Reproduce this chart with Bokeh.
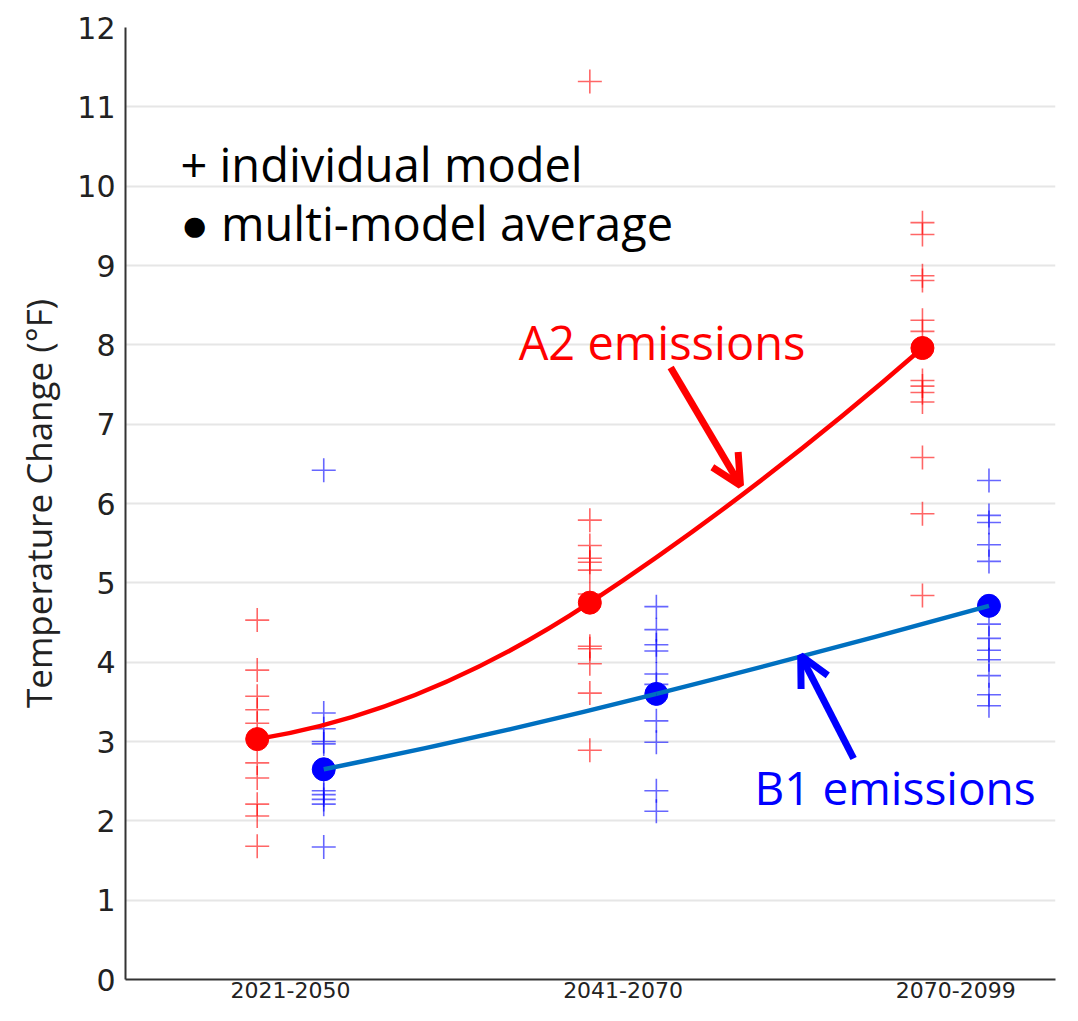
from bokeh.plotting import figure
from bokeh.models import Arrow, OpenHead, FixedTicker, Label
from bokeh.embed import file_html
from bokeh.resources import INLINE

# ---- data ----
periods = ["2021-2050", "2041-2070", "2070-2099"]

a2_models = [
    [4.53, 3.90, 3.57, 3.40, 3.23, 2.73, 2.54, 2.21, 2.06, 1.68],
    [11.32, 5.79, 5.47, 5.31, 5.26, 5.16, 4.86, 4.20, 4.17, 3.98, 3.61, 2.89],
    [9.54, 9.39, 8.87, 8.81, 8.31, 8.17, 7.55, 7.48, 7.40, 7.28, 6.58, 5.87, 4.84],
]
b1_models = [
    [6.42, 3.36, 3.16, 3.00, 2.97, 2.38, 2.33, 2.27, 2.21, 1.67],
    [4.70, 4.41, 4.22, 4.14, 3.85, 3.72, 3.26, 2.99, 2.38, 2.12],
    [6.29, 5.85, 5.76, 5.48, 5.27, 4.48, 4.30, 4.15, 4.03, 3.83, 3.59, 3.45],
]
a2_mean = [3.03, 4.75, 7.96]
b1_mean = [2.65, 3.60, 4.71]

y_ticks = list(range(0, 13))

# ---- style ----
OFF = 0.1
RED = "#ff0000"
BLUE = "#0000ff"
LINE_BLUE = "#0070c0"
FONT = "Open Sans"

p = figure(width=1062, height=1005, output_backend="svg", toolbar_location=None,
           x_range=(0.504, 3.30), y_range=(0, 12),
           min_border_left=125, min_border_top=27, min_border_right=7, min_border_bottom=26)
p.outline_line_color = None
p.xgrid.grid_line_color = None
p.ygrid.grid_line_color = "#e6e6e6"
p.ygrid.grid_line_width = 2
p.background_fill_color = "white"
p.border_fill_color = "white"

p.yaxis.ticker = FixedTicker(ticks=y_ticks)
p.xaxis.ticker = FixedTicker(ticks=[1, 2, 3])
p.xaxis.major_label_overrides = {i + 1: s for i, s in enumerate(periods)}
for ax in (p.xaxis[0], p.yaxis[0]):
    ax.major_tick_out = 0
    ax.major_tick_in = 0
    ax.minor_tick_out = 0
    ax.minor_tick_in = 0
    ax.axis_line_color = "#333333"
    ax.axis_line_width = 2
    ax.major_label_text_font = "DejaVu Sans"
    ax.major_label_text_color = "#222222"
p.yaxis.major_label_text_font_size = "30px"
p.yaxis.major_label_standoff = 10
p.xaxis.major_label_text_font_size = "22px"
p.xaxis.major_label_standoff = 2
p.yaxis.axis_label = "Temperature Change (°F)"
p.yaxis.axis_label_text_font = FONT
p.yaxis.axis_label_text_font_style = "normal"
p.yaxis.axis_label_text_font_size = "35px"
p.yaxis.axis_label_text_color = "#222222"
p.yaxis.axis_label_standoff = 12

# individual model crosses
for i, vals in enumerate(a2_models):
    p.scatter([i + 1 - OFF] * len(vals), vals, marker="cross", size=24,
              line_color=RED, line_alpha=0.6, line_width=1.6)
for i, vals in enumerate(b1_models):
    p.scatter([i + 1 + OFF] * len(vals), vals, marker="cross", size=24,
              line_color=BLUE, line_alpha=0.6, line_width=1.6)

# multi-model averages
xa = [i + 1 - OFF for i in range(3)]
xb = [i + 1 + OFF for i in range(3)]
p.scatter(xa, a2_mean, marker="circle", size=23, fill_color=RED, line_color=RED)
p.scatter(xb, b1_mean, marker="circle", size=23, fill_color=BLUE, line_color=BLUE)

# smooth connecting curves: two quadratic pieces sharing a tangent at the middle average
def curve(xs, ys, color):
    s_left = (ys[1] - ys[0]) / (xs[1] - xs[0])
    s_right = (ys[2] - ys[1]) / (xs[2] - xs[1])
    slope = 0.3 * s_left + 0.7 * s_right
    h1 = 0.5 * (xs[1] - xs[0])
    h2 = 0.5 * (xs[2] - xs[1])
    p.quadratic(x0=[xs[0], xs[1]], y0=[ys[0], ys[1]],
                x1=[xs[1], xs[2]], y1=[ys[1], ys[2]],
                cx=[xs[1] - h1, xs[1] + h2],
                cy=[ys[1] - h1 * slope, ys[1] + h2 * slope],
                line_color=color, line_width=4.5)

curve(xa, a2_mean, RED)
curve(xb, b1_mean, LINE_BLUE)

# annotations
p.add_layout(Label(x=0.669, y=10.28, text="+ individual model", text_font=FONT,
                   text_font_size="47px", text_color="black", text_baseline="alphabetic"))
p.add_layout(Label(x=0.669, y=9.54, text="● multi-model average", text_font=FONT,
                   text_font_size="47px", text_color="black", text_baseline="alphabetic"))
p.add_layout(Label(x=1.686, y=8.04, text="A2 emissions", text_font=FONT,
                   text_font_size="47px", text_color=RED, text_baseline="alphabetic"))
p.add_layout(Label(x=2.395, y=2.43, text="B1 emissions", text_font=FONT,
                   text_font_size="46px", text_color=BLUE, text_baseline="alphabetic"))

p.add_layout(Arrow(x_start=2.143, y_start=7.715, x_end=2.353, y_end=6.227,
                   line_color=RED, line_width=7,
                   end=OpenHead(size=30, line_color=RED, line_width=7)))
p.add_layout(Arrow(x_start=2.693, y_start=2.786, x_end=2.534, y_end=4.084,
                   line_color=BLUE, line_width=7,
                   end=OpenHead(size=30, line_color=BLUE, line_width=7)))

open("out.html", "w").write(file_html(p, INLINE))
